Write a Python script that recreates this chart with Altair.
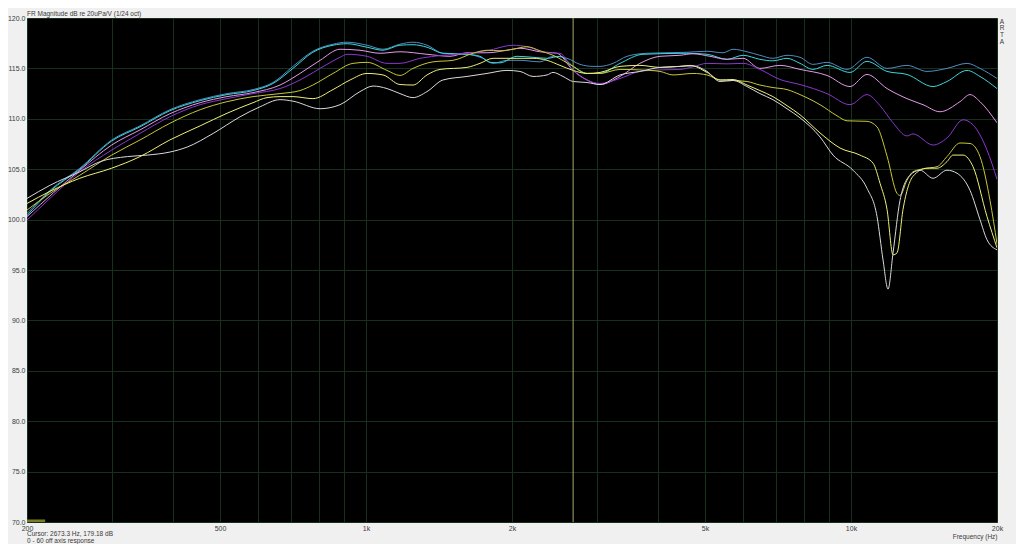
import altair as alt
import pandas as pd

# ---------------- data ----------------
curve_names = ["0 deg", "10 deg", "20 deg", "30 deg", "40 deg", "50 deg", "60 deg"]
curve_colors = ["#4f8cc0", "#38d8dc", "#e49ae8", "#8a38cc", "#c8c836", "#f0f07a", "#dadada"]

blue_f = [200, 223, 257, 299, 342, 394, 455, 517, 585, 643, 707, 777, 855, 914, 1005, 1084, 1175, 1250, 1336, 1441,
          1615, 1743, 1827, 1953, 2077, 2284, 2430, 2597, 2762, 2938, 3037, 3231, 3452, 3796, 4590, 5048, 5447, 5712,
          6104, 6490, 6903, 7380, 7850, 8348, 8924, 9812, 10790, 11866, 13046, 14347, 15773, 17346, 18449, 20000]
blue_db = [100.6, 102.9, 105.1, 107.9, 109.3, 110.9, 111.9, 112.5, 112.9, 113.6, 115.2, 116.7, 117.4, 117.6, 117.3,
           116.9, 117.4, 117.6, 117.3, 116.5, 116.4, 116.0, 115.5, 115.8, 115.8, 115.65, 116.2, 116.0, 115.4, 115.2,
           115.2, 115.5, 116.2, 116.5, 116.6, 116.7, 116.55, 116.9, 116.65, 116.3, 116.0, 116.3, 116.1, 115.4, 115.6,
           114.9, 116.1, 115.0, 115.3, 114.7, 115.0, 115.5, 115.0, 114.0]

cyan_f = [200, 223, 257, 299, 342, 394, 455, 517, 585, 643, 707, 777, 855, 914, 1005, 1084, 1175, 1250, 1336, 1441,
          1615, 1718, 1802, 1889, 2048, 2210, 2362, 2512, 2673, 2856, 3037, 3340, 3724, 4590, 5048, 5552, 5990, 6490,
          6903, 7380, 7850, 8348, 8924, 9952, 10790, 11866, 13046, 14762, 15773, 17346, 18449, 20000]
cyan_db = [100.4, 102.8, 105.0, 107.8, 109.2, 110.8, 111.8, 112.4, 112.8, 113.5, 115.0, 116.6, 117.3, 117.45, 117.1,
           116.8, 117.3, 117.35, 117.1, 116.5, 116.4, 116.2, 115.6, 115.55, 116.2, 116.1, 116.0, 116.2, 115.2, 114.5,
           114.5, 115.5, 116.4, 116.5, 116.4, 115.9, 116.3, 115.9, 115.75, 116.0, 115.5, 114.9, 115.3, 114.6, 115.7,
           114.7, 114.4, 113.2, 113.7, 114.8, 114.2, 113.0]

pink_f = [200, 257, 299, 342, 394, 455, 517, 585, 665, 731, 804, 884, 972, 1069, 1175, 1336, 1490, 1615, 1776, 1953,
          2077, 2284, 2477, 2673, 2856, 3037, 3340, 3671, 4038, 4440, 4722, 5119, 5552, 5990, 6490, 7137, 7850, 8924,
          9952, 10790, 11866, 13046, 14076, 15260, 16779, 17595, 18449, 20000]
pink_db = [100.3, 104.9, 107.4, 108.9, 110.5, 111.6, 112.2, 112.6, 113.35, 114.5, 115.8, 116.9, 116.8, 116.5, 116.65,
           116.4, 116.2, 116.55, 116.55, 116.8, 117.0, 116.65, 116.5, 114.8, 113.85, 113.4, 114.2, 115.5, 116.2, 116.3,
           116.45, 116.2, 115.9, 116.0, 115.0, 115.3, 114.9, 114.3, 113.2, 114.4, 113.0, 112.0, 111.4, 110.7, 111.7,
           112.4, 111.7, 109.6]

purple_f = [200, 223, 257, 299, 342, 394, 455, 517, 585, 665, 731, 804, 884, 914, 1005, 1105, 1175, 1292, 1441, 1615,
            1776, 2010, 2148, 2362, 2512, 2673, 2856, 3037, 3340, 3671, 4038, 4440, 4722, 5048, 5552, 5990, 6490, 7137,
            7850, 8924, 9952, 10790, 11478, 12209, 13046, 13423, 14762, 15773, 17022, 17848, 19073, 20000]
purple_db = [99.95, 102.1, 104.75, 106.9, 108.55, 110.2, 111.4, 112.0, 112.5, 113.0, 113.85, 115.0, 116.1, 116.4,
             116.2, 115.5, 115.5, 116.0, 116.3, 116.5, 116.75, 117.3, 117.15, 116.55, 116.5, 114.8, 113.85, 113.5,
             114.0, 114.7, 114.85, 114.9, 115.15, 115.5, 115.45, 115.5, 114.9, 113.9, 113.4, 112.5, 111.4, 112.4,
             111.3, 109.6, 108.3, 108.5, 107.4, 108.1, 109.9, 109.4, 106.9, 104.0]

olive_f = [200, 223, 257, 299, 342, 394, 455, 517, 585, 665, 731, 777, 855, 940, 1005, 1105, 1175, 1250, 1374, 1511,
           1662, 1776, 1889, 2010, 2148, 2284, 2430, 2673, 2856, 3037, 3340, 3671, 4038, 4295, 4722, 5048, 5370, 5712,
           6104, 6490, 6903, 7380, 7850, 8632, 9357, 9812, 10790, 11315, 11866, 12442, 12619, 13046, 13423, 14347,
           15045, 15773, 16779, 17595, 18449, 19348, 20000]
olive_db = [100.95, 102.6, 104.4, 106.4, 107.9, 109.55, 110.9, 111.7, 112.2, 112.5, 112.8, 113.35, 114.5, 115.5,
            115.6, 114.8, 114.3, 115.0, 115.65, 115.8, 116.5, 116.8, 116.75, 116.9, 117.15, 116.75, 116.3, 115.2,
            114.5, 114.5, 114.9, 114.85, 114.7, 114.35, 114.5, 114.35, 113.85, 113.8, 113.7, 113.35, 113.1, 112.9,
            112.4, 111.4, 110.3, 109.8, 109.75, 109.2, 106.3, 102.6, 102.4, 103.9, 104.75, 105.1, 105.25, 106.25,
            107.6, 107.55, 106.25, 101.9, 97.6]

yellow_f = [200, 223, 257, 299, 342, 394, 455, 517, 585, 625, 665, 707, 777, 855, 927, 1005, 1084, 1175, 1250, 1336,
            1421, 1615, 1718, 1827, 2010, 2210, 2362, 2512, 2673, 2856, 3037, 3340, 3671, 4038, 4440, 4656, 5048, 5370,
            5712, 6104, 6490, 6903, 7380, 7850, 8632, 9492, 10436, 11102, 11478, 11866, 12209, 12442, 12801, 13423,
            14347, 15045, 15773, 16231, 17022, 17848, 19073, 20000]
yellow_db = [101.6, 102.8, 104.1, 105.1, 106.25, 107.9, 109.3, 110.55, 111.6, 112.1, 112.2, 112.2, 112.0, 112.9,
             113.85, 114.5, 114.35, 113.4, 113.35, 114.35, 114.9, 115.1, 115.5, 116.0, 116.0, 116.0, 115.8, 115.3,
             114.8, 114.5, 114.6, 115.2, 115.3, 115.1, 115.2, 115.3, 114.6, 113.85, 113.9, 113.35, 112.8, 112.2, 111.3,
             110.4, 108.6, 107.1, 106.4, 105.6, 103.6, 101.0, 96.5, 96.7, 101.0, 104.3, 105.1, 105.1, 105.75, 106.4,
             106.4, 105.25, 100.3, 97.2]

white_f = [200, 223, 257, 283, 322, 354, 394, 428, 484, 550, 605, 665, 707, 804, 884, 972, 1034, 1105, 1175, 1250,
           1336, 1441, 1615, 1776, 1953, 2077, 2210, 2362, 2430, 2548, 2673, 2856, 3037, 3340, 3671, 4038, 4440, 4722,
           5048, 5370, 5712, 6104, 6490, 6903, 7380, 7850, 8632, 9182, 10096, 10790, 11315, 11643, 11922, 12209,
           12619, 13233, 13877, 14762, 15773, 16542, 17595, 18449, 19073, 20000]
white_db = [102.1, 103.4, 104.75, 105.75, 106.25, 106.4, 106.7, 107.2, 108.55, 110.2, 111.2, 111.9, 111.75, 111.0,
            111.4, 112.7, 113.25, 113.0, 112.5, 112.1, 112.7, 113.85, 114.2, 114.5, 114.8, 114.7, 114.2, 114.35, 114.6,
            114.2, 113.7, 113.6, 113.4, 114.35, 114.7, 115.1, 115.2, 115.25, 114.7, 113.7, 113.8, 113.2, 112.5, 111.9,
            111.0, 110.1, 108.2, 106.4, 104.9, 103.1, 100.3, 96.0, 93.1, 96.7, 101.9, 104.4, 104.9, 104.1, 104.9,
            104.6, 102.9, 100.0, 98.0, 97.0]

x_grid = [200, 300, 400, 500, 600, 700, 800, 900, 1000, 2000, 3000, 4000, 5000, 6000, 7000, 8000, 9000, 10000, 20000]
x_labels = [200, 500, 1000, 2000, 5000, 10000, 20000]
y_ticks = [70, 75, 80, 85, 90, 95, 100, 105, 110, 115, 120]

cursor_freq = [2673.3]
marker_f = [200]
marker_f2 = [218]
marker_db = [70.0]
marker_db2 = [70.25]

title_text = "FR Magnitude dB re 20uPa/V (1/24 oct)"
cursor_text = "Cursor: 2673.3 Hz, 179.18 dB"
note_text = "0 - 60 off axis response"
brand_text = "A\nR\nT\nA"

# ---------------- build table ----------------
series = [blue_f, cyan_f, pink_f, purple_f, olive_f, yellow_f, white_f]
values = [blue_db, cyan_db, pink_db, purple_db, olive_db, yellow_db, white_db]
rows = []
for i, (name, fs, ds) in enumerate(zip(curve_names, series, values)):
    for f, d in zip(fs, ds):
        rows.append({"freq": f, "db": d, "curve": name, "k": i})
df = pd.DataFrame(rows)

W, H = 970, 504
FONT = "Liberation Sans"
TXT = "#3a3a3a"
GRID = "#17301d"

label_list = ",".join(str(v) for v in x_labels)
x_axis = alt.Axis(
    values=x_grid,
    labelExpr=f"indexof([{label_list}], datum.value) >= 0 ? (datum.value >= 1000 ? (datum.value / 1000) + 'k' : datum.value + '') : ''",
    grid=True, gridColor=GRID, gridWidth=1, ticks=False, domain=False,
    labelFont=FONT, labelFontSize=7, labelColor=TXT, labelPadding=2,
    labelOverlap=False, labelFlush=False,
    title="Frequency (Hz)", titleAnchor="end", titleFont=FONT, titleFontSize=6.5,
    titleFontWeight="normal", titleColor=TXT, titlePadding=2,
)
y_axis = alt.Axis(
    values=y_ticks, format=".1f", grid=True, gridColor=GRID, gridWidth=1,
    ticks=False, domain=False, labelFont=FONT, labelFontSize=7, labelColor=TXT,
    labelPadding=2, title=None,
)

xs = alt.Scale(type="log", domain=[200, 20000], nice=False)
ys = alt.Scale(domain=[70, 120], nice=False, zero=False)

lines = alt.Chart(df).mark_line(strokeWidth=1, interpolate="monotone", clip=True).encode(
    x=alt.X("freq:Q", scale=xs, axis=x_axis),
    y=alt.Y("db:Q", scale=ys, axis=y_axis),
    color=alt.Color("curve:N", scale=alt.Scale(domain=curve_names, range=curve_colors), legend=None),
    order=alt.Order("k:Q"),
)

cursor = alt.Chart(pd.DataFrame({"f": cursor_freq})).mark_rule(color="#a8a86c", strokeWidth=1).encode(
    x=alt.X("f:Q", scale=xs),
)

marker = alt.Chart(pd.DataFrame({"f": marker_f, "f2": marker_f2, "d": marker_db, "d2": marker_db2})).mark_rect(
    color="#7c7c22").encode(
    x=alt.X("f:Q", scale=xs), x2="f2:Q", y=alt.Y("d:Q", scale=ys), y2="d2:Q")

def text_layer(t, x, y, align="left", baseline="middle", **kw):
    return alt.Chart(pd.DataFrame({"t": [t]})).mark_text(
        align=align, baseline=baseline, font=FONT, fontSize=6.5, color=TXT, **kw
    ).encode(x=alt.value(x), y=alt.value(y), text="t:N")

title_l = text_layer(title_text, 0, -2.5, baseline="alphabetic")
cursor_l = text_layer(cursor_text, 0, 515.5)
note_l = text_layer(note_text, 0, 523)
brand_l = text_layer(brand_text, 975, 0.5, align="center", baseline="top", lineBreak="\n", lineHeight=6.8)

chart = alt.layer(lines, cursor, marker, title_l, cursor_l, note_l, brand_l).properties(
    width=W, height=H,
    background="#f0f0f0",
    padding={"left": 19, "top": 10, "right": 19, "bottom": 22},
    autosize=alt.AutoSizeParams(type="none"),
).configure_view(fill="#000000", stroke="#78b488", strokeWidth=1)

chart.save("out.html", embed_options={"renderer": "svg", "actions": False})
